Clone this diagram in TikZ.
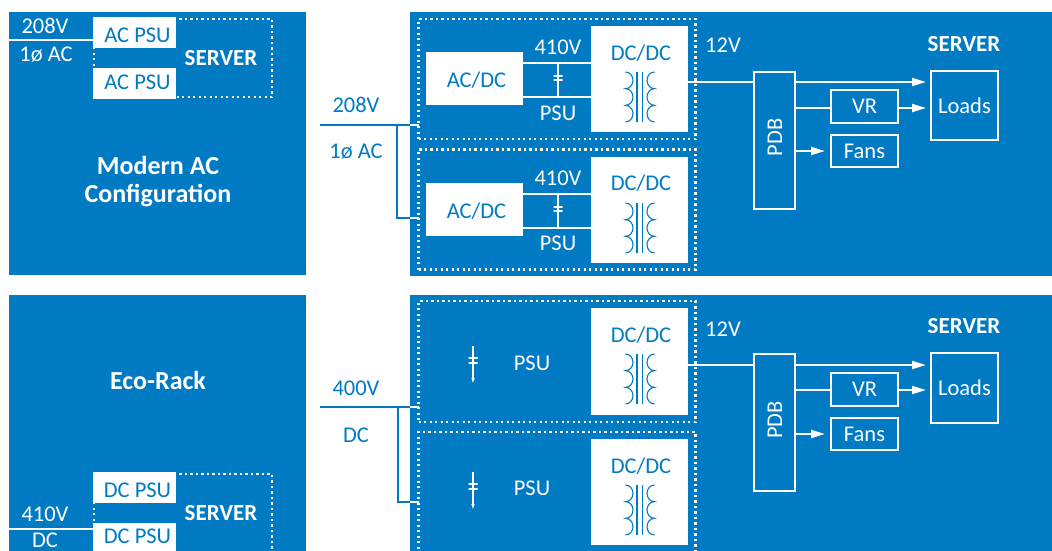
\documentclass[tikz,border=0pt]{standalone}
\usepackage{fontspec}
\setmainfont{Carlito}
\usetikzlibrary{arrows.meta}
\definecolor{panelblue}{HTML}{007AC3}
\tikzset{
  panel/.style={fill=panelblue,draw=none,inner sep=0pt,outer sep=0pt},
  whitebox/.style={fill=white,draw=none,inner sep=0pt,outer sep=0pt},
  linebox/.style={draw=white,line width=2.2pt,inner sep=0pt,text=white,font=\fontsize{22.5}{22.5}\selectfont},
  dotbox/.style={draw=white,line width=2.2pt,dash pattern=on 2.2pt off 3.3pt,inner sep=0pt,outer sep=0pt},
  lbl/.style={text=white,inner sep=0pt,font=\fontsize{22.5}{22.5}\selectfont},
  lblblue/.style={lbl,text=panelblue},
  lblbold/.style={lbl,font=\fontsize{23}{23}\selectfont\bfseries},
  lbltitle/.style={lbl,font=\fontsize{26}{26}\selectfont\bfseries},
  wire/.style={draw=white,line width=2.2pt},
  wireblue/.style={draw=panelblue,line width=2.2pt},
  wirearrow/.style={wire,-{Triangle[length=14pt,width=8pt]}},
  capline/.style={draw=white,line width=1.1pt},
  pics/xfmr/.style={code={
    \draw[panelblue,line width=1.1pt] (-14.5,-25) arc[start angle=-90,end angle=90,x radius=7.5,y radius=8.33]
      arc[start angle=-90,end angle=90,x radius=7.5,y radius=8.33]
      arc[start angle=-90,end angle=90,x radius=7.5,y radius=8.33];
    \draw[panelblue,line width=1.1pt] (14.5,-25) arc[start angle=-90,end angle=-270,x radius=7.5,y radius=8.33]
      arc[start angle=-90,end angle=-270,x radius=7.5,y radius=8.33]
      arc[start angle=-90,end angle=-270,x radius=7.5,y radius=8.33];
    \draw[panelblue,line width=1.1pt] (-3,-25) -- (-3,25);
    \draw[panelblue,line width=1.1pt] (2.5,-25) -- (2.5,25);
  }}
}
\begin{document}
\begin{tikzpicture}[x=1pt,y=-1pt]
    \clip (0,0) rectangle (1052,550);
    \fill[white] (0,0) rectangle (1052,550);

    % Panels
    \node[panel,minimum width=297pt,minimum height=263pt] (panelTL) at (157.5,143.5) {};
    \node[panel,minimum width=642pt,minimum height=264pt] (panelTR) at (731,144) {};
    \node[panel,minimum width=297pt,minimum height=260pt] (panelBL) at (157.5,425) {};
    \node[panel,minimum width=642pt,minimum height=260pt] (panelBR) at (731,425) {};

    % Modern AC, small view
    \node[dotbox,minimum width=178pt,minimum height=78pt] (srvTL) at (183,58) {};
    \node[whitebox,minimum width=83pt,minimum height=31pt] (psuTLa) at (134.5,32.5) {};
    \node[whitebox,minimum width=83pt,minimum height=31pt] (psuTLb) at (134.5,83.5) {};
    \node[lblblue] (psuTLatxt) at (137.5,35) {AC PSU};
    \node[lblblue] (psuTLbtxt) at (137.5,82.5) {AC PSU};
    \node[lblbold] (srvTLtxt) at (221,58) {SERVER};
    \coordinate (feedTL) at (9,40);
    \draw[wire] (feedTL) -- (psuTLa.west |- feedTL);
    \node[lbl] (vTL) at (45,26) {208V};
    \node[lbl] (acTL) at (46,55) {1ø AC};
    \node[lbltitle] (titleAC) at (158,165.5) {Modern AC};
    \node[lbltitle] (titleACb) at (158,195.5) {Configuration};

    % Eco-Rack, small view
    \node[dotbox,minimum width=178pt,minimum height=100pt] (srvBL) at (183,524) {};
    \node[whitebox,minimum width=83pt,minimum height=31pt] (psuBLa) at (134.5,487.5) {};
    \node[whitebox,minimum width=83pt,minimum height=31pt] (psuBLb) at (134.5,538.5) {};
    \node[lblblue] (psuBLatxt) at (137.5,490) {DC PSU};
    \node[lblblue] (psuBLbtxt) at (137.5,536.5) {DC PSU};
    \node[lblbold] (srvBLtxt) at (221,513) {SERVER};
    \coordinate (feedBL) at (9,529);
    \draw[wire] (feedBL) -- (psuBLb.west |- feedBL);
    \node[lbl] (vBL) at (45,514) {410V};
    \node[lbl] (dcBL) at (45,540) {DC};
    \node[lbltitle] (titleEco) at (158,380) {Eco-Rack};

    % Top PSU A
    \node[dotbox,minimum width=277pt,minimum height=120pt] (dotA) at (557,79) {};
    \node[whitebox,minimum width=97pt,minimum height=53pt] (acdcA) at (474.5,78.5) {};
    \node[lblblue] (acdcAtxt) at (476.5,80.5) {AC/DC};
    \node[whitebox,minimum width=97pt,minimum height=106pt] (dcdcA) at (639.5,79) {};
    \node[lblblue] (dcdcAtxt) at (641,53) {DC/DC};
    \pic at (640,97) {xfmr};
    \coordinate (busAp) at (558,63);
    \coordinate (busAn) at (558,97);
    \draw[wire] (acdcA.east |- busAp) -- (dcdcA.west |- busAp);
    \draw[wire] (acdcA.east |- busAn) -- (dcdcA.west |- busAn);
    \draw[capline] (busAp) -- (558,76) -- (553.5,76) -- (562.5,76) -- (558,76) -- (558,80) -- (553.5,80) -- (562.5,80) -- (558,80) -- (busAn);
    \node[lbl] (vA) at (558,47) {410V};
    \node[lbl] (psuA) at (558,113) {PSU};

    % Top PSU B
    \node[dotbox,minimum width=277pt,minimum height=120pt] (dotB) at (557,209.5) {};
    \node[whitebox,minimum width=97pt,minimum height=53pt] (acdcB) at (474.5,209.5) {};
    \node[lblblue] (acdcBtxt) at (476.5,211) {AC/DC};
    \node[whitebox,minimum width=97pt,minimum height=106pt] (dcdcB) at (639.5,210) {};
    \node[lblblue] (dcdcBtxt) at (641,183) {DC/DC};
    \pic at (640,228) {xfmr};
    \coordinate (busBp) at (558,194);
    \coordinate (busBn) at (558,228);
    \draw[wire] (acdcB.east |- busBp) -- (dcdcB.west |- busBp);
    \draw[wire] (acdcB.east |- busBn) -- (dcdcB.west |- busBn);
    \draw[capline] (busBp) -- (558,207) -- (553.5,207) -- (562.5,207) -- (558,207) -- (558,211) -- (553.5,211) -- (562.5,211) -- (558,211) -- (busBn);
    \node[lbl] (vB) at (558,178) {410V};
    \node[lbl] (psuB) at (558,243) {PSU};

    % AC feed
    \coordinate (inAC) at (320,125);
    \coordinate (tapAC) at (397,125);
    \coordinate (tapACb) at (397,218);
    \draw[wireblue] (inAC) -- (panelTR.west |- inAC);
    \draw[wireblue] (tapAC) -- (tapACb) -- (panelTR.west |- tapACb);
    \draw[wire] (panelTR.west |- inAC) -- (dotA.west |- inAC);
    \draw[wire] (panelTR.west |- tapACb) -- (dotB.west |- tapACb);
    \node[lblblue] (vAC) at (356,105) {208V};
    \node[lblblue] (acAC) at (356,152) {1ø AC};

    % Top server
    \node[linebox,minimum width=41pt,minimum height=137.5pt] (pdbT) at (774.5,140.5) {};
    \node[lbl,rotate=90] (pdbTtxt) at (775,137.5) {PDB};
    \node[linebox,minimum width=66.5pt,minimum height=33pt] (vrT) at (864.5,106.5) {VR};
    \node[linebox,minimum width=66.5pt,minimum height=32.5pt] (fansT) at (864.5,151) {Fans};
    \node[linebox,minimum width=67pt,minimum height=69.5pt] (loadsT) at (964.5,105.5) {Loads};
    \node[lbl] (v12T) at (723,45) {12V};
    \node[lblbold] (srvT) at (964,44) {SERVER};
    \coordinate (railT) at (926,82);
    \coordinate (railTb) at (926,108);
    \coordinate (railTc) at (825,151);
    \draw[wire] (dcdcA.east |- railT) -- (pdbT.west |- railT);
    \draw[wirearrow] (pdbT.east |- railT) -- (railT);
    \draw[wire] (pdbT.east |- railTb) -- (vrT.west |- railTb);
    \draw[wirearrow] (vrT.east |- railTb) -- (railTb);
    \draw[wirearrow] (pdbT.east |- railTc) -- (railTc);

    % Bottom PSU C
    \node[dotbox,minimum width=277pt,minimum height=121pt] (dotC) at (557,361.5) {};
    \node[whitebox,minimum width=97pt,minimum height=107pt] (dcdcC) at (639.5,361.5) {};
    \node[lblblue] (dcdcCtxt) at (641,335) {DC/DC};
    \pic at (640,379) {xfmr};
    \coordinate (capCt) at (473,346);
    \coordinate (capCb) at (473,383);
    \draw[capline,-{Triangle[length=5pt,width=3pt]}] (capCt) -- (473,358) -- (468.5,358) -- (477.5,358) -- (473,358) -- (473,363) -- (468.5,363) -- (477.5,363) -- (473,363) -- (capCb);
    \node[lbl] (psuC) at (532,363) {PSU};

    % Bottom PSU D
    \node[dotbox,minimum width=277pt,minimum height=140pt] (dotD) at (557,502) {};
    \node[whitebox,minimum width=97pt,minimum height=106pt] (dcdcD) at (639.5,492) {};
    \node[lblblue] (dcdcDtxt) at (641,466) {DC/DC};
    \pic at (640,510) {xfmr};
    \coordinate (capDt) at (473,472);
    \coordinate (capDb) at (473,509);
    \draw[capline,-{Triangle[length=5pt,width=3pt]}] (capDt) -- (473,484) -- (468.5,484) -- (477.5,484) -- (473,484) -- (473,489) -- (468.5,489) -- (477.5,489) -- (473,489) -- (capDb);
    \node[lbl] (psuD) at (532,488) {PSU};

    % DC feed
    \coordinate (inDC) at (320,407);
    \coordinate (tapDC) at (398,407);
    \coordinate (tapDCb) at (398,502);
    \draw[wireblue] (inDC) -- (panelBR.west |- inDC);
    \draw[wireblue] (tapDC) -- (tapDCb) -- (panelBR.west |- tapDCb);
    \draw[wire] (panelBR.west |- inDC) -- (dotC.west |- inDC);
    \draw[wire] (panelBR.west |- tapDCb) -- (dotD.west |- tapDCb);
    \node[lblblue] (vDC) at (356,388) {400V};
    \node[lblblue] (dcDC) at (356,435) {DC};

    % Bottom server
    \node[linebox,minimum width=41pt,minimum height=137.5pt] (pdbB) at (774.5,422.5) {};
    \node[lbl,rotate=90] (pdbBtxt) at (775,420) {PDB};
    \node[linebox,minimum width=66.5pt,minimum height=33pt] (vrB) at (864.5,389.5) {VR};
    \node[linebox,minimum width=66.5pt,minimum height=32.5pt] (fansB) at (864.5,434) {Fans};
    \node[linebox,minimum width=67pt,minimum height=69.5pt] (loadsB) at (964.5,388) {Loads};
    \node[lbl] (v12B) at (723,329) {12V};
    \node[lblbold] (srvB) at (964,326) {SERVER};
    \coordinate (railB) at (926,365);
    \coordinate (railBb) at (926,390);
    \coordinate (railBc) at (825,434);
    \draw[wire] (dcdcC.east |- railB) -- (pdbB.west |- railB);
    \draw[wirearrow] (pdbB.east |- railB) -- (railB);
    \draw[wire] (pdbB.east |- railBb) -- (vrB.west |- railBb);
    \draw[wirearrow] (vrB.east |- railBb) -- (railBb);
    \draw[wirearrow] (pdbB.east |- railBc) -- (railBc);
\end{tikzpicture}
\end{document}
